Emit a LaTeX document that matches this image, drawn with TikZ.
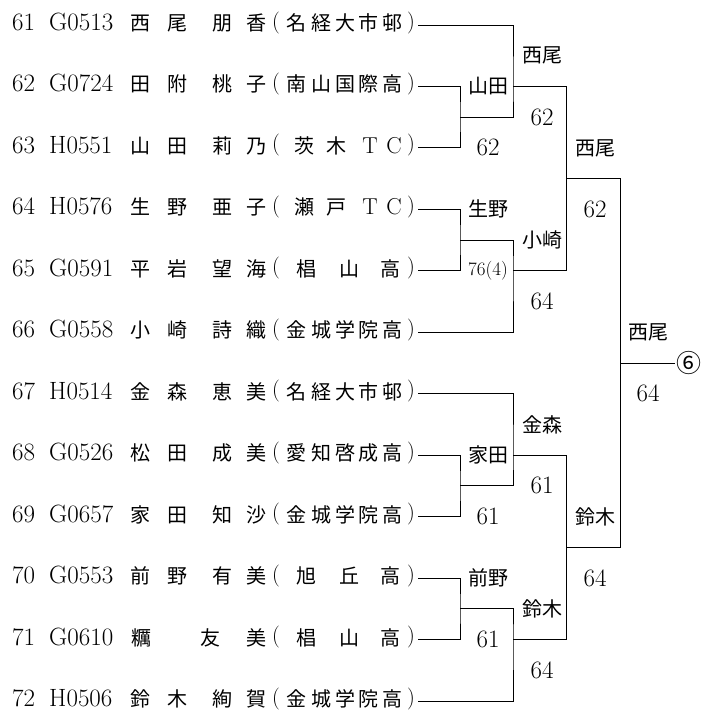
\documentclass[tikz,border=0pt]{standalone}
\usepackage{fontspec}
\newfontfamily\jpfont{Noto Sans CJK JP}
\usetikzlibrary{positioning}
\newcommand{\latin}[1]{{\rmfamily\fontsize{23}{24}\selectfont #1}}
\tikzstyle{wire} = [line width=0.9pt]
\tikzstyle{lat} = [inner sep=0pt, font=\fontsize{25}{26}\selectfont]
\tikzstyle{kanji} = [inner sep=0pt, anchor=base, font=\jpfont\fontsize{20}{22}\selectfont]
\tikzstyle{paren} = [inner sep=0pt, anchor=base, font=\fontsize{22}{24}\selectfont]
\tikzstyle{winner} = [inner sep=0pt, font=\jpfont\fontsize{20}{22}\selectfont]
\tikzstyle{score} = [inner sep=0pt, font=\fontsize{25}{26}\selectfont]
\tikzstyle{tiebreak} = [inner sep=0pt, font=\fontsize{19}{20}\selectfont]
\tikzstyle{circ} = [inner sep=1pt, font=\jpfont\fontsize{25}{26}\selectfont]
\newcommand{\player}[5]{%
  \node[lat, anchor=base west] (no#2) at (12, #1+0.09) {#2};
  \node[lat, anchor=base west] (id#2) at (49, #1+0.09) {#3};
  \foreach \px/\ch [count=\i] in {#4} \node[kanji] (nm#2-\i) at (\px, #1+0.09) {\ch};
  \node[paren] (lp#2) at (276, #1+0.05) {(};
  \foreach \px/\ch [count=\i] in {#5} \node[kanji] (cl#2-\i) at (\px, #1+0.09) {\ch};
  \node[paren] (rp#2) at (411, #1+0.05) {)};
  \coordinate (e#2) at (418, #1);
}

\begin{document}
\begin{tikzpicture}[x=1pt, y=-61.45pt]
	\useasboundingbox (0,-0.4068) rectangle (702,11.1636);

	\player{0}{61}{G0513}{140/西,177/尾,222/朋,256/香}{296/名,321/経,345/大,368/市,392/邨}
	\player{1}{62}{G0724}{140/田,177/附,222/桃,256/子}{296/南,321/山,345/国,368/際,392/高}
	\player{2}{63}{H0551}{140/山,177/田,222/莉,256/乃}{304/茨,336/木,370/\latin{T},394/\latin{C}}
	\player{3}{64}{H0576}{140/生,177/野,222/亜,256/子}{304/瀬,336/戸,370/\latin{T},394/\latin{C}}
	\player{4}{65}{G0591}{140/平,177/岩,222/望,256/海}{306/椙,349/山,390/高}
	\player{5}{66}{G0558}{140/小,177/崎,222/詩,256/織}{296/金,321/城,345/学,368/院,392/高}
	\player{6}{67}{H0514}{140/金,177/森,222/恵,256/美}{296/名,321/経,345/大,368/市,392/邨}
	\player{7}{68}{G0526}{140/松,177/田,222/成,256/美}{296/愛,321/知,345/啓,368/成,392/高}
	\player{8}{69}{G0657}{140/家,177/田,222/知,256/沙}{296/金,321/城,345/学,368/院,392/高}
	\player{9}{70}{G0553}{140/前,177/野,222/有,256/美}{306/旭,349/丘,390/高}
	\player{10}{71}{G0610}{141/糲,210/友,256/美}{306/椙,349/山,390/高}
	\player{11}{72}{H0506}{140/鈴,177/木,222/絢,256/賀}{296/金,321/城,345/学,368/院,392/高}

	\coordinate (r1a) at (460,1.5);
	\coordinate (r2a) at (513,1);
	\coordinate (r1b) at (460,3.5);
	\coordinate (r2b) at (513,4);
	\coordinate (sf1) at (566,2.5);
	\coordinate (r1c) at (460,7.5);
	\coordinate (r2c) at (513,7);
	\coordinate (r1d) at (460,9.5);
	\coordinate (r2d) at (513,10);
	\coordinate (sf2) at (566,8.5);
	\coordinate (fin) at (620,5.5);
	\node[circ, right=55pt of fin] (champ) {⑥};

	\draw[wire] (e62) -| (r1a) |- (e63);
	\draw[wire] (e61) -| (r2a) |- (r1a);
	\draw[wire] (e64) -| (r1b) |- (e65);
	\draw[wire] (r1b) -| (r2b) |- (e66);
	\draw[wire] (r2a) -| (sf1) |- (r2b);
	\draw[wire] (e68) -| (r1c) |- (e69);
	\draw[wire] (e67) -| (r2c) |- (r1c);
	\draw[wire] (e70) -| (r1d) |- (e71);
	\draw[wire] (r1d) -| (r2d) |- (e72);
	\draw[wire] (r2c) -| (sf2) |- (r2d);
	\draw[wire] (sf1) -| (fin) |- (sf2);
	\draw[wire] (fin) -- (champ);

	\node[winner] (wa1) at (488,1) {山田};
	\node[score] (sa1) at (488,2) {62};
	\node[winner] (wa2) at (488,3) {生野};
	\node[tiebreak] (sa2) at (488,4) {76(4)};
	\node[winner] (wa3) at (488,7) {家田};
	\node[score] (sa3) at (488,8) {61};
	\node[winner] (wa4) at (488,9) {前野};
	\node[score] (sa4) at (488,10) {61};

	\node[winner] (wb1) at (542,0.5) {西尾};
	\node[score] (sb1) at (542,1.5) {62};
	\node[winner] (wb2) at (542,3.5) {小崎};
	\node[score] (sb2) at (542,4.5) {64};
	\node[winner] (wb3) at (542,6.5) {金森};
	\node[score] (sb3) at (542,7.5) {61};
	\node[winner] (wb4) at (542,9.5) {鈴木};
	\node[score] (sb4) at (542,10.5) {64};

	\node[winner] (wc1) at (595,2) {西尾};
	\node[score] (sc1) at (595,3) {62};
	\node[winner] (wc2) at (595,8) {鈴木};
	\node[score] (sc2) at (595,9) {64};

	\node[winner] (wd1) at (648,5) {西尾};
	\node[score] (sd1) at (648,6) {64};
\end{tikzpicture}
\end{document}
